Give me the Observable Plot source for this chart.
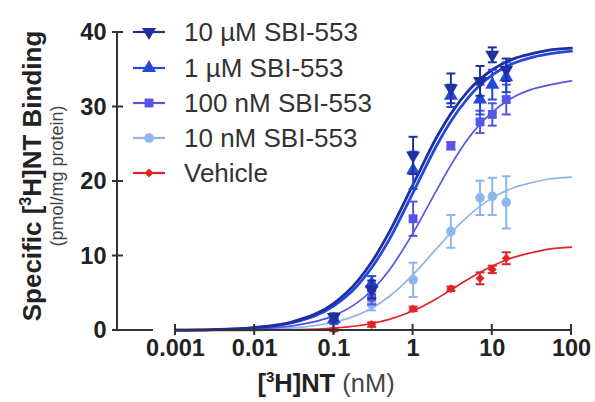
<!DOCTYPE html>
<html><head><meta charset="utf-8">
<script src="https://cdn.jsdelivr.net/npm/d3@7"></script>
<script src="https://cdn.jsdelivr.net/npm/@observablehq/plot@0.6"></script>
<style>
body{margin:0;background:#fff;}
#chart{position:relative;width:595px;height:402px;}
</style>
</head><body><div id="chart"></div>
<script>
// ---- data ----
const concentrations = [0.1, 0.3, 1, 3, 7, 10, 15];
const seriesNames = ["10 µM SBI-553", "1 µM SBI-553", "100 nM SBI-553", "10 nM SBI-553", "Vehicle"];
const seriesColors = ["#1f2f9f", "#2548dc", "#5555e6", "#8db6ee", "#e32228"];
const seriesSymbols = ["triangle", "triangle", "square", "circle", "diamond2"];
const seriesRotate = [180, 0, 0, 0, 0];

const mean10uM = [1.8, 5.5, 23.5, 32.5, 33.5, 37.0, 35.0];
const err10uM = [0.5, 1.2, 2.5, 2.0, 2.0, 1.0, 1.5];
const mean1uM = [1.5, 6.3, 21.5, 31.5, 31.0, 33.0, 34.0];
const err1uM = [0.5, 1.0, 2.5, 1.5, 2.0, 2.0, 2.0];
const mean100nM = [1.3, 4.5, 15.0, 24.8, 28.0, 29.0, 31.0];
const err100nM = [0.3, 1.0, 2.3, 0.5, 1.5, 1.5, 2.0];
const mean10nM = [1.6, 3.5, 6.8, 13.3, 17.8, 18.0, 17.2];
const err10nM = [0.5, 0.8, 2.3, 2.2, 2.3, 2.5, 3.5];
const meanVehicle = [0.1, 0.8, 2.9, 5.6, 7.0, 8.2, 9.7];
const errVehicle = [0.2, 0.3, 0.3, 0.3, 0.8, 0.5, 0.8];

// fitted curves
const curveX = [0.001, 0.003, 0.01, 0.03, 0.1, 0.2, 0.3, 0.5, 1, 2, 3, 5, 10, 20, 30, 50, 100];
const fit10uM = [0.04, 0.12, 0.40, 1.17, 3.65, 6.66, 9.19, 13.2, 19.6, 26.0, 29.1, 32.2, 35.0, 36.6, 37.1, 37.6, 37.9];
const fit1uM = [0.04, 0.11, 0.36, 1.05, 3.30, 6.06, 8.42, 12.2, 18.5, 24.9, 28.1, 31.3, 34.3, 36.0, 36.6, 37.1, 37.5];
const fit100nM = [0.02, 0.06, 0.21, 0.63, 2.0, 3.78, 5.37, 8.10, 13.1, 18.9, 22.2, 25.8, 29.3, 31.5, 32.3, 32.9, 33.5];
const fit10nM = [0.01, 0.03, 0.12, 0.34, 1.11, 2.10, 3.00, 4.57, 7.50, 11.05, 13.1, 15.4, 17.8, 19.3, 19.8, 20.3, 20.6];
const fitVehicle = [0.00, 0.01, 0.03, 0.10, 0.33, 0.64, 0.94, 1.49, 2.64, 4.30, 5.44, 6.90, 8.66, 9.91, 10.4, 10.9, 11.2];

const xTicks = [0.001, 0.01, 0.1, 1, 10, 100];
const xTickLabels = ["0.001", "0.01", "0.1", "1", "10", "100"];
const yTicks = [0, 10, 20, 30, 40];

// ---- build tables ----
const means = [mean10uM, mean1uM, mean100nM, mean10nM, meanVehicle];
const errs = [err10uM, err1uM, err100nM, err10nM, errVehicle];
const fits = [fit10uM, fit1uM, fit100nM, fit10nM, fitVehicle];
const curveWidths = [2.8, 2.8, 1.7, 1.7, 1.7];
const markerR = [5.2, 5.2, 5.0, 4.8, 4.0];

const points = [], curves = [];
seriesNames.forEach((s, i) => {
  concentrations.forEach((c, j) => points.push({series: s, idx: i, x: c, y: means[i][j], lo: means[i][j] - errs[i][j], hi: means[i][j] + errs[i][j]}));
  curveX.forEach((c, j) => curves.push({series: s, idx: i, x: c, y: fits[i][j]}));
});
const order = [4, 3, 2, 1, 0]; // draw darkest on top

const capSymbol = {draw(ctx, size) { const w = Math.sqrt(size / Math.PI); ctx.moveTo(-w, 0); ctx.lineTo(w, 0); }};

const marks = [];
for (const i of order) {
  marks.push(Plot.line(curves.filter(d => d.idx === i), {x: "x", y: "y", stroke: seriesColors[i], strokeWidth: curveWidths[i], curve: "monotone-x"}));
}
for (const i of order) {
  const p = points.filter(d => d.idx === i);
  marks.push(Plot.ruleX(p, {x: "x", y1: "lo", y2: "hi", stroke: seriesColors[i], strokeWidth: 2}));
  marks.push(Plot.dot(p, {x: "x", y: "lo", symbol: capSymbol, r: 4.5, stroke: seriesColors[i], strokeWidth: 2}));
  marks.push(Plot.dot(p, {x: "x", y: "hi", symbol: capSymbol, r: 4.5, stroke: seriesColors[i], strokeWidth: 2}));
  marks.push(Plot.dot(p, {x: "x", y: "y", symbol: seriesSymbols[i], rotate: seriesRotate[i], r: markerR[i], fill: seriesColors[i], stroke: "none"}));
}
marks.push(Plot.axisX({ticks: xTicks, tickFormat: (d) => xTickLabels[xTicks.indexOf(d)], tickSize: 0, tickPadding: 9, fontSize: 23.5, label: null}));
marks.push(Plot.axisY({ticks: yTicks, tickSize: 0, tickPadding: 11, fontSize: 23.5, label: null}));

const chart = Plot.plot({
  width: 595, height: 402,
  marginLeft: 117, marginRight: 24, marginTop: 32, marginBottom: 72,
  x: {type: "log", domain: [0.001, 100], range: [175, 571], axis: null, label: null},
  y: {domain: [0, 40], axis: null, label: null},
  style: {fontFamily: "'Liberation Sans', Arial, sans-serif", fontWeight: "bold", color: "#222", background: "#fff"},
  marks
});
document.getElementById("chart").appendChild(chart);

// ---- axes lines, ticks, titles, legend ----
const xs = chart.scale("x"), ys = chart.scale("y");
const svg = d3.select(chart);
const axisColor = "#333";
const yAxisX = 117;
const y0 = ys.apply(0);
const g = svg.append("g").attr("stroke", axisColor).attr("stroke-width", 2).attr("fill", "none");
g.append("line").attr("x1", yAxisX).attr("x2", yAxisX).attr("y1", ys.apply(40)).attr("y2", y0 + 1);
g.append("line").attr("x1", yAxisX).attr("x2", xs.apply(0.001) - 22).attr("y1", y0).attr("y2", y0);
g.append("line").attr("x1", xs.apply(0.001)).attr("x2", xs.apply(100)).attr("y1", y0).attr("y2", y0);
for (const t of xTicks) g.append("line").attr("x1", xs.apply(t)).attr("x2", xs.apply(t)).attr("y1", y0 - 6).attr("y2", y0 + 5);
for (const t of yTicks) g.append("line").attr("x1", yAxisX - 5).attr("x2", yAxisX + 6).attr("y1", ys.apply(t)).attr("y2", ys.apply(t));

const font = "'Liberation Sans', Arial, sans-serif";
// x title
const xt = svg.append("text").attr("x", 326).attr("y", 392).attr("text-anchor", "middle")
  .attr("font-family", font).attr("font-size", 25.5).attr("fill", "#222");
xt.append("tspan").attr("font-weight", "bold").text("[");
xt.append("tspan").attr("font-weight", "bold").attr("font-size", 15).attr("dy", -10).text("3");
xt.append("tspan").attr("font-weight", "bold").attr("dy", 10).text("H]NT");
xt.append("tspan").attr("font-weight", "normal").attr("fill", "#444").text(" (nM)");

// y title
const yt = svg.append("text").attr("transform", "translate(41,176) rotate(-90)").attr("text-anchor", "middle")
  .attr("font-family", font).attr("font-size", 26).attr("font-weight", "bold").attr("fill", "#222");
yt.append("tspan").text("Specific [");
yt.append("tspan").attr("font-size", 16).attr("dy", -10).text("3");
yt.append("tspan").attr("dy", 10).text("H]NT Binding");
svg.append("text").attr("transform", "translate(63,176) rotate(-90)").attr("text-anchor", "middle")
  .attr("font-family", font).attr("font-size", 18).attr("font-weight", "normal").attr("fill", "#444")
  .text("(pmol/mg protein)");

// legend
const legendRowY = [32, 68, 103, 138, 173];
const lg = svg.append("g");
seriesNames.forEach((s, i) => {
  const cy = legendRowY[i];
  lg.append("line").attr("x1", 133).attr("x2", 165).attr("y1", cy).attr("y2", cy).attr("stroke", seriesColors[i]).attr("stroke-width", 2.2);
  const sym = {triangle: d3.symbolTriangle, square: d3.symbolSquare, circle: d3.symbolCircle, diamond2: d3.symbolDiamond2}[seriesSymbols[i]];
  const r = markerR[i];
  lg.append("path").attr("d", d3.symbol(sym, Math.PI * r * r)())
    .attr("transform", `translate(149,${cy}) rotate(${seriesRotate[i]})`).attr("fill", seriesColors[i]);
  lg.append("text").attr("x", 184).attr("y", cy).attr("dy", "0.36em").attr("text-anchor", "start").attr("font-family", font)
    .attr("font-size", 26).attr("font-weight", "normal").attr("fill", "#333").text(s);
});
</script>
</body></html>
